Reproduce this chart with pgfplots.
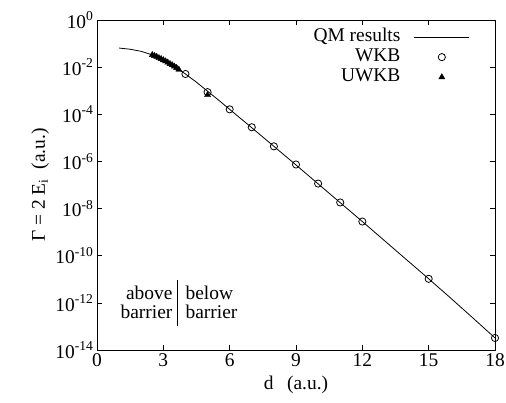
\documentclass[border=0pt]{standalone}
\usepackage{fontspec}
\setmainfont{Liberation Serif}
\usepackage{pgfplots}
\pgfplotsset{compat=1.18}
\begin{document}
\begin{tikzpicture}[font=\fontsize{19.5}{23}\selectfont]
\useasboundingbox (-97bp,-53bp) rectangle (409bp,350bp);
\begin{axis}[
  at={(0,0)}, anchor=south west,
  scale only axis, width=398bp, height=330bp,
  ymode=log, xmin=0, xmax=18, ymin=1e-14, ymax=1,
  xtick={0,3,...,18},
  ytick={1e-14,1e-12,1e-10,1e-8,1e-6,1e-4,1e-2,1},
  yticklabels={10\textsuperscript{-14},10\textsuperscript{-12},10\textsuperscript{-10},10\textsuperscript{-8},10\textsuperscript{-6},10\textsuperscript{-4},10\textsuperscript{-2},10\textsuperscript{0}},
  yminorticks=false,
  tick align=inside, major tick length=5bp,
  tick style={line width=0.7bp, black},
  axis line style={line width=0.9bp},
  /pgf/number format/assume math mode=true,
  xlabel={d\hspace{0.7em}(a.u.)},
  ylabel={Γ = 2 E\textsubscript{i}\hspace{0.5em}(a.u.)},
  x label style={at={(axis description cs:0.5,-0.106)},anchor=center},
  y label style={at={(axis description cs:-0.143,0.5)},anchor=center},
  legend plot pos=right,
  legend cell align=right,
  legend image code/.code={\draw[mark repeat=2,mark phase=2,#1] plot coordinates {(0bp,0bp) (27.5bp,0bp) (55bp,0bp)};},
  legend style={draw=none, fill=none, at={(axis description cs:0.937,0.979)}, anchor=north east,
    inner sep=0pt, column sep=12bp, row sep=0bp,
    nodes={text height=13bp, text depth=4bp, inner sep=1.5bp}},
]
\addplot[black, line width=0.8bp, no marks] coordinates {
(1.0,6.46e-2) (1.5,5.75e-2) (2.0,4.68e-2) (2.5,3.31e-2) (3.0,2.00e-2) (3.5,1.07e-2)
(4.0,5.13e-3) (4.5,2.29e-3) (5.0,9.55e-4) (5.5,3.98e-4) (6,1.62e-4) (7,2.69e-5)
(8,4.37e-6) (9,7.08e-7) (10,1.12e-7) (11,1.78e-8) (12,2.82e-9) (13,4.37e-10)
(14,6.76e-11) (15,1.05e-11) (16,1.58e-12) (17,2.29e-13) (18,3.24e-14)
};
\addlegendentry{QM results}
\addplot[black, only marks, mark=o, mark size=3.6bp, line width=0.8bp] coordinates {
(4,5.13e-3) (5,8.71e-4) (6,1.62e-4) (7,2.82e-5) (8,4.37e-6) (9,7.41e-7)
(10,1.15e-7) (11,1.82e-8) (12,2.82e-9) (15,1.05e-11) (18,3.24e-14)
};
\addlegendentry{WKB}
\addplot[black, only marks, mark=triangle*, mark size=3.5bp] coordinates {
(2.5,3.31e-2) (2.6,3.02e-2) (2.7,2.75e-2) (2.8,2.45e-2) (2.9,2.24e-2) (3.0,2.00e-2)
(3.1,1.78e-2) (3.2,1.58e-2) (3.3,1.38e-2) (3.4,1.23e-2) (3.5,1.07e-2) (3.6,9.33e-3)
(3.7,7.94e-3) (5.0,6.61e-4)
};
\addlegendentry{UWKB}
\node[anchor=east, align=right, inner sep=0pt, font=\fontsize{19.5}{19}\selectfont] at (axis cs:3.42,1.02e-12) {above\\barrier};
\node[anchor=west, align=left, inner sep=0pt, font=\fontsize{19.5}{19}\selectfont] at (axis cs:4.0,1.02e-12) {below\\barrier};
\draw[line width=0.8bp] (axis cs:3.62,9.3e-12) -- (axis cs:3.62,1.05e-13);
\end{axis}
\end{tikzpicture}
\end{document}
